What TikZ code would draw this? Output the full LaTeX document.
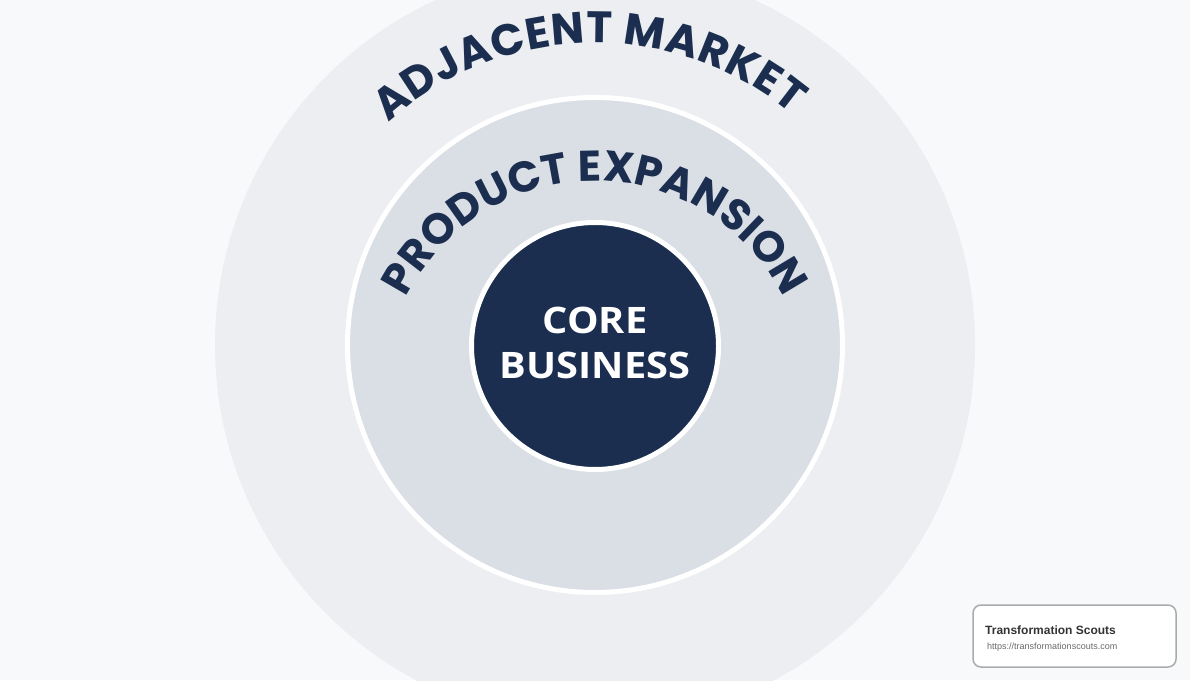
\documentclass[tikz,border=0pt]{standalone}
\usepackage{fontspec}
\usetikzlibrary{decorations.text}
\newfontfamily\arcfont{Poppins}
\newfontfamily\corefont{Open Sans}[FakeStretch=1.09]
\newfontfamily\wmfont{Liberation Sans}
\definecolor{bgc}{HTML}{F8F9FA}
\definecolor{outerc}{HTML}{ECEEF2}
\definecolor{midc}{HTML}{DADEE5}
\definecolor{navy}{HTML}{1B2E4F}
\definecolor{wmborder}{HTML}{ABABAB}
\definecolor{wmtext}{HTML}{333333}
\definecolor{wmurl}{HTML}{6A6A6A}
\tikzset{
  ring/.style={circle, inner sep=0pt},
  arctext/.style={decorate, decoration={text along path, text color=navy,
     text={|\arcfont\bfseries\fontsize{44pt}{44pt}\selectfont|#1},
     text align={fit to path}}},
  arctextc/.style={decorate, decoration={text along path, text color=navy,
     text={|\arcfont\bfseries\fontsize{43pt}{43pt}\selectfont|#1},
     text align=center}}
}
\begin{document}
\begin{tikzpicture}[x=1pt,y=1pt]
\useasboundingbox (0,0) rectangle (1190,680);
\clip (0,0) rectangle (1190,680);
\fill[bgc] (0,0) rectangle (1190,680);
\node[ring, fill=outerc, minimum size=760pt] (adjacent) at (595,335) {};
\node[ring, fill=midc, draw=white, line width=5pt, minimum size=495pt] (product) at (595,335) {};
\node[ring, fill=navy, draw=white, line width=5pt, minimum size=247pt] (core) at (595,334) {};
\node[text=white, align=center, inner sep=0pt,
      font=\corefont\bfseries\fontsize{36.5pt}{45pt}\selectfont] (corelabel) at (595,337) {CORE\\BUSINESS};
\path[arctext={ADJACENT MARKET}] (595,330) ++(132.3:307pt) arc[start angle=132.3, end angle=50.2, radius=307pt];
\path[arctextc={PRODUCT EXPANSION}] (595,288) ++(180:211pt) arc[start angle=180, end angle=0, radius=211pt];
\node[draw=wmborder, line width=1.5pt, rounded corners=8pt, fill=white,
      minimum width=203pt, minimum height=62pt, inner sep=0pt] (wm) at (1074.5,44) {};
\node[anchor=base west, inner sep=0pt, text=wmtext,
      font=\wmfont\bfseries\fontsize{12pt}{14pt}\selectfont] (wmtitle) at (985,46) {Transformation Scouts};
\node[anchor=base west, inner sep=0pt, text=wmurl,
      font=\wmfont\fontsize{9pt}{11pt}\selectfont] (wmurl) at (987,31) {https://transformationscouts.com};
\end{tikzpicture}
\end{document}
